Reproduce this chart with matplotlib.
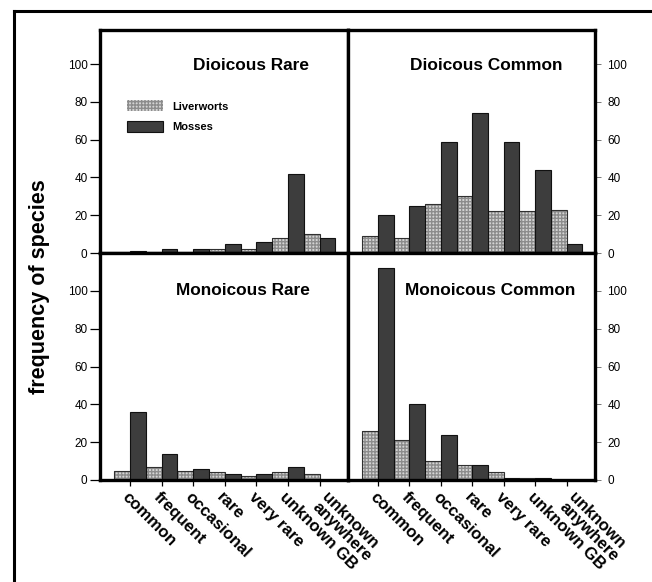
import numpy as np
import matplotlib
matplotlib.use("Agg")
import matplotlib.pyplot as plt
import matplotlib.transforms as mtransforms
from matplotlib.lines import Line2D

plt.rcParams['font.family'] = ['Liberation Sans', 'DejaVu Sans']

categories = ["common", "frequent", "occasional", "rare", "very rare",
              "unknown GB", "unknown\nanywhere"]

dio_rare_liv = [0, 0, 0, 2, 2, 8, 10]
dio_rare_moss = [1, 2, 2, 5, 6, 42, 8]
dio_common_liv = [9, 8, 26, 30, 22, 22, 23]
dio_common_moss = [20, 25, 59, 74, 59, 44, 5]
mono_rare_liv = [5, 7, 5, 4, 2, 4, 3]
mono_rare_moss = [36, 14, 6, 3, 3, 7, 0]
mono_common_liv = [26, 21, 10, 8, 4, 1, 0]
mono_common_moss = [112, 40, 24, 8, 1, 1, 0]

yticks = [0, 20, 40, 60, 80, 100]

fig = plt.figure(figsize=(6.52, 5.82), dpi=100)

W, H = 652, 582
L, M, R = 100 / W, 348 / W, 595 / W
T, MID, B = 1 - 30 / H, 1 - 253 / H, 1 - 480 / H

ax_tl = fig.add_axes([L, MID, M - L, T - MID])
ax_tr = fig.add_axes([M, MID, R - M, T - MID])
ax_bl = fig.add_axes([L, B, M - L, MID - B])
ax_br = fig.add_axes([M, B, R - M, MID - B])

panels = [
    (ax_tl, dio_rare_liv, dio_rare_moss, "Dioicous Rare", 0.61, 0.843, 118),
    (ax_tr, dio_common_liv, dio_common_moss, "Dioicous Common", 0.56, 0.843, 118),
    (ax_bl, mono_rare_liv, mono_rare_moss, "Monoicous Rare", 0.577, 0.833, 120),
    (ax_br, mono_common_liv, mono_common_moss, "Monoicous Common", 0.575, 0.833, 120),
]

x = np.arange(len(categories))
w = 0.5
for ax, liv, moss, title, tx, ty, top in panels:
    ax.bar(x - w / 2, liv, w, color='#d4d4d4', edgecolor='#8c8c8c',
           hatch='+++++', linewidth=0, label="Liverworts")
    ax.bar(x - w / 2, liv, w, fill=False, edgecolor='#303030', linewidth=0.8)
    ax.bar(x + w / 2, moss, w, color='#3d3d3d', edgecolor='#111111',
           linewidth=0.8, label="Mosses")
    ax.set_xlim(-0.95, 6.9)
    ax.set_ylim(0, top)
    ax.text(tx, ty, title, transform=ax.transAxes, ha='center', va='center',
            fontsize=12.4, fontweight='bold')
    for s in ax.spines.values():
        s.set_linewidth(2.4)
    ax.set_yticks(yticks)

for ax in (ax_tl, ax_bl):
    ax.tick_params(axis='y', left=True, right=False, labelleft=True,
                   labelright=False, direction='out', length=7, width=0.9,
                   labelsize=8.5, pad=2)
for ax in (ax_tr, ax_br):
    ax.tick_params(axis='y', left=False, right=True, labelleft=False,
                   labelright=True, direction='out', length=4, width=0.7,
                   color='#777777', labelsize=8.5, pad=5)

for ax in (ax_tl, ax_tr):
    ax.set_xticks([])

shift = mtransforms.ScaledTranslation(7 / 72, 0, fig.dpi_scale_trans)
for ax in (ax_bl, ax_br):
    ax.set_xticks(x)
    ax.set_xticklabels(categories, rotation=-45, ha='left', va='top',
                       rotation_mode='anchor', fontsize=12, fontweight='bold',
                       linespacing=0.85)
    ax.tick_params(axis='x', direction='out', length=4, width=0.9, pad=3)
    last = ax.get_xticklabels()[-1]
    last.set_transform(last.get_transform() + shift)

ax_tl.legend(loc='upper left', bbox_to_anchor=(0.085, 0.71), frameon=False,
             prop={'weight': 'bold', 'size': 8},
             handlelength=3.3, handleheight=1.15, labelspacing=0.85,
             handletextpad=0.8, borderpad=0)

fig.text(40 / W, 1 - 287 / H, "frequency of species", rotation=90,
         ha='center', va='center', fontsize=15.5, fontweight='bold')

# outer frame
fig.add_artist(Line2D([14 / W, 14 / W], [0, 1 - 11 / H], transform=fig.transFigure,
                      color='black', linewidth=2.2))
fig.add_artist(Line2D([14 / W, 1], [1 - 11 / H, 1 - 11 / H], transform=fig.transFigure,
                      color='black', linewidth=2.2))

plt.savefig("out.png", dpi=100)
